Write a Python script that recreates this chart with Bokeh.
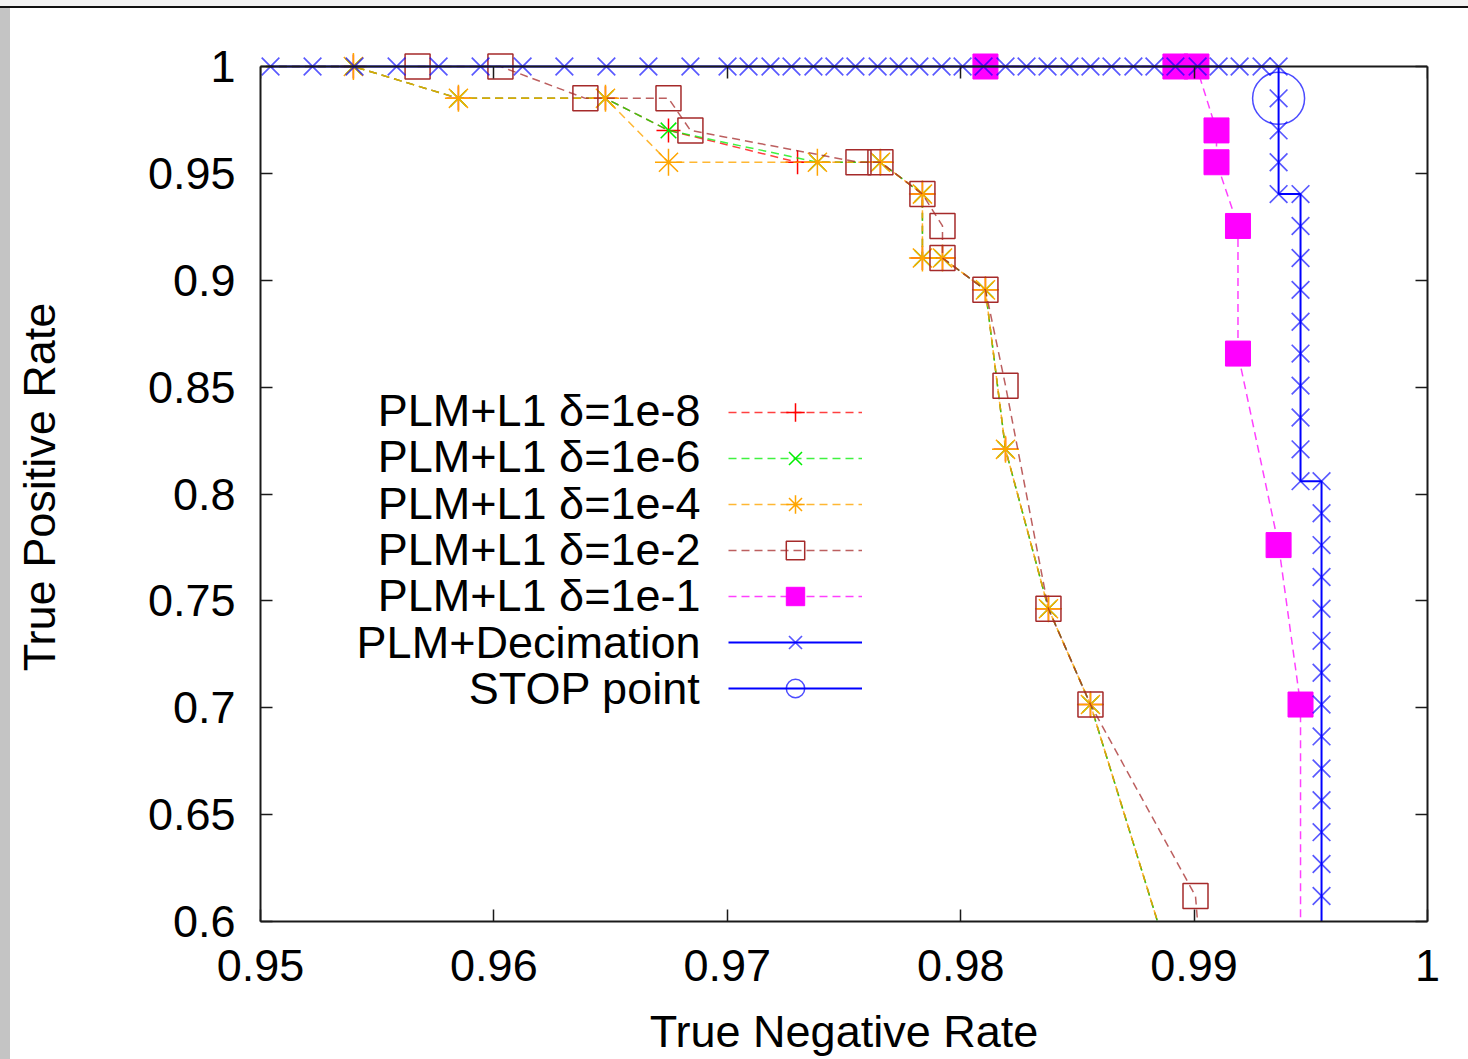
from bokeh.plotting import figure
from bokeh.models import (Range1d, LinearAxis, FixedTicker, CustomJSTickFormatter,
                          Legend, LegendItem, Div, Label)
from bokeh.layouts import column, row
from bokeh.embed import file_html
from bokeh.resources import INLINE

# ---------------- data ----------------
x_ticks = [0.95, 0.96, 0.97, 0.98, 0.99, 1.0]
x_tick_labels = ["0.95", "0.96", "0.97", "0.98", "0.99", "1"]
y_ticks = [0.6, 0.65, 0.7, 0.75, 0.8, 0.85, 0.9, 0.95, 1.0]
y_tick_labels = ["0.6", "0.65", "0.7", "0.75", "0.8", "0.85", "0.9", "0.95", "1"]

series_names = ["PLM+L1 δ=1e-8", "PLM+L1 δ=1e-6", "PLM+L1 δ=1e-4",
                "PLM+L1 δ=1e-2", "PLM+L1 δ=1e-1", "PLM+Decimation", "STOP point"]

l1_1e8_tnr = [0.9480, 0.95398, 0.95848, 0.96478, 0.96748, 0.97301, 0.97656, 0.97836,
              0.97836, 0.97922, 0.98106, 0.98192, 0.98376, 0.98556, 0.98894]
l1_1e8_tpr = [1.0, 1.0, 0.9851, 0.9851, 0.9701, 0.9552, 0.9552, 0.9403,
              0.9104, 0.9104, 0.8955, 0.8209, 0.7463, 0.7015, 0.5821]

l1_1e6_tnr = [0.9480, 0.95398, 0.95848, 0.96478, 0.96748, 0.97386, 0.97656, 0.97836,
              0.97836, 0.97922, 0.98106, 0.98192, 0.98376, 0.98556, 0.98894]
l1_1e6_tpr = [1.0, 1.0, 0.9851, 0.9851, 0.9701, 0.9552, 0.9552, 0.9403,
              0.9104, 0.9104, 0.8955, 0.8209, 0.7463, 0.7015, 0.5821]

l1_1e4_tnr = [0.9480, 0.95398, 0.95848, 0.96478, 0.96748, 0.97386, 0.97656, 0.97836,
              0.97836, 0.97922, 0.98106, 0.98192, 0.98376, 0.98556, 0.98894]
l1_1e4_tpr = [1.0, 1.0, 0.9851, 0.9851, 0.9552, 0.9552, 0.9552, 0.9403,
              0.9104, 0.9104, 0.8955, 0.8209, 0.7463, 0.7015, 0.5821]

l1_1e2_tnr = [0.95673, 0.96028, 0.96392, 0.96748, 0.96842, 0.97562, 0.97656, 0.97836,
              0.97922, 0.97922, 0.98106, 0.98192, 0.98376, 0.98556, 0.99006, 0.99028]
l1_1e2_tpr = [1.0, 1.0, 0.9851, 0.9851, 0.9701, 0.9552, 0.9552, 0.9403,
              0.9254, 0.9104, 0.8955, 0.8507, 0.7463, 0.7015, 0.6119, 0.5821]

l1_1e1_tnr = [0.98106, 0.98920, 0.99010, 0.99096, 0.99096, 0.99188, 0.99188,
              0.99362, 0.99456, 0.99456]
l1_1e1_tpr = [1.0, 1.0, 1.0, 0.9701, 0.9552, 0.9254, 0.8657,
              0.7761, 0.7015, 0.5821]

dec_tnr = [0.95043, 0.95223, 0.95403, 0.95583, 0.95763, 0.95943, 0.96123, 0.96302,
           0.96482, 0.96662, 0.96842, 0.97001, 0.97091, 0.97185, 0.97275, 0.97369,
           0.97459, 0.97549, 0.97644, 0.97734, 0.97823, 0.97918, 0.98008, 0.98098,
           0.98192, 0.98282, 0.98372, 0.98466, 0.98556, 0.98646, 0.98740, 0.98830,
           0.98920, 0.99015, 0.99105, 0.99195, 0.99289, 0.99362,
           0.99362, 0.99362, 0.99362, 0.99362,
           0.99456, 0.99456, 0.99456, 0.99456, 0.99456, 0.99456, 0.99456, 0.99456,
           0.99456, 0.99456,
           0.99546, 0.99546, 0.99546, 0.99546, 0.99546, 0.99546, 0.99546, 0.99546,
           0.99546, 0.99546, 0.99546, 0.99546, 0.99546, 0.99546, 0.99546]
dec_tpr = [1.0] * 38 + [
           0.9851, 0.9701, 0.9552, 0.9403,
           0.9403, 0.9254, 0.9104, 0.8955, 0.8806, 0.8657, 0.8507, 0.8358,
           0.8209, 0.8060,
           0.8060, 0.7910, 0.7761, 0.7612, 0.7463, 0.7313, 0.7164, 0.7015,
           0.6866, 0.6716, 0.6567, 0.6418, 0.6269, 0.6119, 0.5821]

stop_tnr = [0.99362]
stop_tpr = [0.9851]

# ---------------- figure ----------------
FONT = "Liberation Sans"
FS = "45px"

p = figure(width=1458, height=1051,
           x_range=Range1d(0.95, 1.0), y_range=Range1d(0.6, 1.00655),
           output_backend="svg", toolbar_location=None,
           min_border_left=250, min_border_right=41,
           min_border_top=44, min_border_bottom=138)
p.outline_line_color = None
p.xgrid.visible = False
p.ygrid.visible = False
p.background_fill_color = "white"
p.border_fill_color = "white"

fmt_code = """
for (let i = 0; i < tv.length; i++) {
  if (Math.abs(tick - tv[i]) < 1e-9) { return tl[i] }
}
return ""
"""
xfmt = CustomJSTickFormatter(args=dict(tv=x_ticks, tl=x_tick_labels), code=fmt_code)
yfmt = CustomJSTickFormatter(args=dict(tv=y_ticks, tl=y_tick_labels), code=fmt_code)


def style_axis(ax, ticks, fmt, labels=True):
    ax.ticker = FixedTicker(ticks=ticks)
    ax.formatter = fmt
    ax.axis_line_color = "#1a1a1a"
    ax.axis_line_width = 2
    ax.major_tick_line_color = "#1a1a1a"
    ax.major_tick_line_width = 1.5
    ax.major_tick_in = 12
    ax.major_tick_out = 0
    ax.minor_tick_line_color = None
    ax.major_label_text_font = FONT
    ax.major_label_text_font_size = FS
    ax.major_label_text_color = "black" if labels else None
    ax.axis_label_text_font = FONT
    ax.axis_label_text_font_size = FS
    ax.axis_label_text_font_style = "normal"
    ax.axis_label_text_color = "black"


xb = p.xaxis[0]
style_axis(xb, x_ticks, xfmt)
xb.bounds = (0.95, 1.0)
xb.axis_label = "True Negative Rate"
xb.major_label_standoff = 28
xb.axis_label_standoff = 22

yl = p.yaxis[0]
style_axis(yl, y_ticks, yfmt)
yl.bounds = (0.6, 1.0)
yl.axis_label = "True Positive Rate"
yl.major_label_standoff = 25
yl.axis_label_standoff = 80

xt = LinearAxis(fixed_location=1.0)
style_axis(xt, x_ticks, xfmt, labels=False)
xt.bounds = (0.95, 1.0)
p.add_layout(xt, "above")

yr = LinearAxis()
style_axis(yr, y_ticks, yfmt, labels=False)
yr.bounds = (0.6, 1.0)
p.add_layout(yr, "right")

DASH = "8 5"

r1_line = p.line(l1_1e8_tnr, l1_1e8_tpr, line_color="#ff0000", line_width=1.5,
                 line_dash=DASH, line_alpha=0.75)
r1_pts = p.scatter(l1_1e8_tnr, l1_1e8_tpr, marker="cross", size=24,
                   line_color="#ff0000", line_width=1.5)

r2_line = p.line(l1_1e6_tnr, l1_1e6_tpr, line_color="#00ee00", line_width=1.5,
                 line_dash=DASH, line_alpha=0.75)
r2_pts = p.scatter(l1_1e6_tnr, l1_1e6_tpr, marker="x", size=22,
                   line_color="#00ee00", line_width=1.5)

r3_line = p.line(l1_1e4_tnr, l1_1e4_tpr, line_color="#ffa500", line_width=1.5,
                 line_dash=DASH, line_alpha=0.8)
r3_pts = p.scatter(l1_1e4_tnr, l1_1e4_tpr, marker="asterisk", size=27,
                   line_color="#ffa500", line_width=1.5)

r4_line = p.line(l1_1e2_tnr, l1_1e2_tpr, line_color="#a52a2a", line_width=1.5,
                 line_dash=DASH, line_alpha=0.75)
r4_pts = p.scatter(l1_1e2_tnr, l1_1e2_tpr, marker="square", size=25,
                   line_color="#a52a2a", fill_color=None, line_width=1.5)

r5_line = p.line(l1_1e1_tnr, l1_1e1_tpr, line_color="#ff00ff", line_width=1.5,
                 line_dash=DASH, line_alpha=0.75)
r5_pts = p.scatter(l1_1e1_tnr, l1_1e1_tpr, marker="square", size=25,
                   line_color="#ff00ff", fill_color="#ff00ff", line_width=1)

r6_line = p.line(dec_tnr, dec_tpr, line_color="#0000ff", line_width=2)
r6_pts = p.scatter(dec_tnr, dec_tpr, marker="x", size=25,
                   line_color="#0000ff", line_alpha=0.65, line_width=1.7)

r7_pts = p.scatter(stop_tnr, stop_tpr, marker="circle", size=52,
                   line_color="#0000ff", line_alpha=0.7, fill_color=None, line_width=1.5)

glyph_sets = [[r1_line, r1_pts], [r2_line, r2_pts], [r3_line, r3_pts],
              [r4_line, r4_pts], [r5_line, r5_pts], [r6_line, r6_pts], [r6_line, r7_pts]]

# gnuplot-style key: right-aligned label texts, sample glyphs to their right
leg_glyphs = Legend(items=[LegendItem(label="", renderers=g) for g in glyph_sets],
                    location=(468, 210), glyph_width=134, glyph_height=46, label_height=46,
                    label_standoff=0, spacing=-3, padding=0, margin=0, label_width=0,
                    label_text_font=FONT, label_text_font_size="1px",
                    background_fill_alpha=0, border_line_color=None)
p.add_layout(leg_glyphs)

KEY_RIGHT = 440      # screen px from frame left
KEY_TOP = 511        # screen px from frame bottom (first row centre)
KEY_STEP = 46.33
for i, name in enumerate(series_names):
    p.add_layout(Label(x=KEY_RIGHT, y=KEY_TOP - i * KEY_STEP, x_units="screen", y_units="screen",
                       text=name, text_align="right", text_baseline="middle",
                       text_font=FONT, text_font_size=FS, text_color="black"))

# page frame (viewer edges)
top_light = Div(text="", width=1468, height=6, margin=0, styles={"background-color": "#f2f2f2"})
top_line = Div(text="", width=1468, height=2, margin=0, styles={"background-color": "#111111"})
left_strip = Div(text="", width=10, height=1051, margin=0, styles={"background-color": "#c4c4c4"})

layout = column(top_light, top_line, row(left_strip, p, spacing=0), spacing=0)

open("out.html", "w").write(file_html(layout, INLINE))
